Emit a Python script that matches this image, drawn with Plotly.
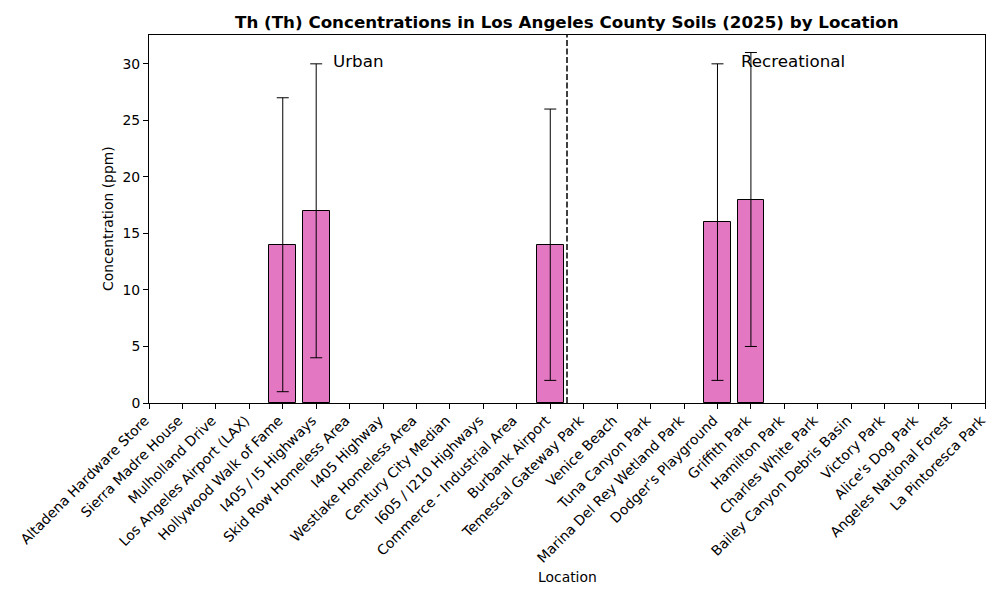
import plotly.graph_objects as go

locations = [
    "Altadena Hardware Store", "Sierra Madre House", "Mulholland Drive",
    "Los Angeles Airport (LAX)", "Hollywood Walk of Fame", "I405 / I5 Highways",
    "Skid Row Homeless Area", "I405 Highway", "Westlake Homeless Area",
    "Century City Median", "I605 / I210 Highways", "Commerce - Industrial Area",
    "Burbank Airport", "Temescal Gateway Park", "Venice Beach", "Tuna Canyon Park",
    "Marina Del Rey Wetland Park", "Dodger's Playground", "Griffith Park",
    "Hamilton Park", "Charles White Park", "Bailey Canyon Debris Basin",
    "Victory Park", "Alice's Dog Park", "Angeles National Forest", "La Pintoresca Park",
]
values = [None, None, None, None, 14, 17, None, None, None, None, None, None,
          14, None, None, None, None, 16, 18, None, None, None, None, None, None, None]
errors = [None, None, None, None, 13, 13, None, None, None, None, None, None,
          12, None, None, None, None, 14, 13, None, None, None, None, None, None, None]
group_labels = ["Urban", "Recreational"]
group_label_x = [6.25, 19.25]
group_label_y = 30
divider_x = 12.5
y_ticks = [0, 5, 10, 15, 20, 25, 30]

FONT = "DejaVu Sans"
FS = 13.9
FL = 16.7
# page body has an 8px default margin; compensate so the plot lands where intended
OFF = 8
L, R, T, B = 149 - OFF, 15 + OFF, 35 - OFF, 197 + OFF
xpos = list(range(len(locations)))

fig = go.Figure()
fig.add_trace(go.Bar(
    x=xpos, y=values, width=0.8,
    marker=dict(color="#e377c2", line=dict(color="black", width=1)),
    error_y=dict(type="data", array=[e if e is not None else 0 for e in errors],
                 symmetric=True, color="black", thickness=1, width=6),
    showlegend=False,
))

fig.add_shape(type="line", xref="x", yref="paper", x0=divider_x, x1=divider_x,
              y0=0, y1=1, line=dict(color="black", width=1.5, dash="6px,2.5px"))

annotations = []
for t, gx in zip(group_labels, group_label_x):
    annotations.append(dict(x=gx, y=group_label_y, xref="x", yref="y", text=t,
                            showarrow=False, xanchor="center", yanchor="middle", yshift=3,
                            font=dict(family=FONT, size=FL, color="black")))
annotations.append(dict(x=0.5, y=1, xref="paper", yref="paper", yshift=13,
                        text="<b>Th (Th) Concentrations in Los Angeles County Soils (2025) by Location</b>",
                        showarrow=False, xanchor="center", yanchor="middle",
                        font=dict(family=FONT, size=FL, color="black")))
annotations.append(dict(x=0.5, y=0, xref="paper", yref="paper", yshift=-174,
                        text="Location", showarrow=False, xanchor="center", yanchor="middle",
                        font=dict(family=FONT, size=FS, color="black")))
annotations.append(dict(x=0, y=0.5, xref="paper", yref="paper", xshift=-41,
                        text="Concentration (ppm)", textangle=-90, showarrow=False,
                        xanchor="center", yanchor="middle",
                        font=dict(family=FONT, size=FS, color="black")))

fig.update_layout(
    width=1000, height=600,
    margin=dict(l=L, r=R, t=T, b=B, pad=0, autoexpand=False),
    paper_bgcolor="white", plot_bgcolor="white",
    font=dict(family=FONT, size=FS, color="black"),
    annotations=annotations,
    bargap=0,
)
fig.update_xaxes(
    range=[0, len(locations) - 1], tickmode="array", tickvals=xpos, ticktext=locations,
    tickangle=-45, ticks="outside", ticklen=5, tickwidth=1, tickcolor="black",
    ticklabelshift=-4, ticklabelstandoff=-2,
    showline=True, linecolor="black", linewidth=1, mirror=True, showgrid=False,
    zeroline=False, automargin=False, tickfont=dict(family=FONT, size=FS, color="black"),
)
fig.update_yaxes(
    range=[0, 32.55], tickmode="array", tickvals=y_ticks,
    ticks="outside", ticklen=5, tickwidth=1, tickcolor="black",
    showline=True, linecolor="black", linewidth=1, mirror=True, showgrid=False,
    zeroline=False, automargin=False, tickfont=dict(family=FONT, size=FS, color="black"),
)

fig.write_html("out.html")
